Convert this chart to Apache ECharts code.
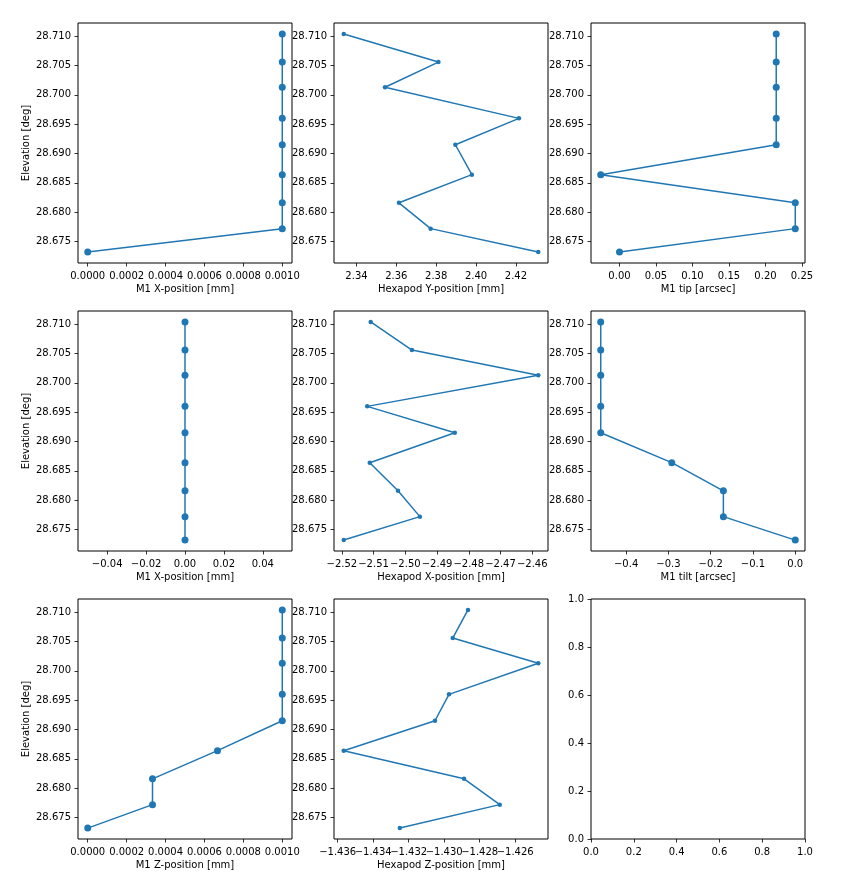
<!DOCTYPE html>
<html><head><meta charset="utf-8">
<script src="https://cdn.jsdelivr.net/npm/echarts@6/dist/echarts.min.js"></script>
<style>html,body{margin:0;padding:0;background:#fff}#c{width:849px;height:882px}</style>
</head><body><div id="c"></div><script>
// Elevation (deg), ordered from lowest to highest
const elevation = [28.6732, 28.6772, 28.6816, 28.6864, 28.6915, 28.6960, 28.7013, 28.7056, 28.7104];

// Panel values (same order as elevation)
const m1XPosTop   = [0.0, 0.001, 0.001, 0.001, 0.001, 0.001, 0.001, 0.001, 0.001];
const hexapodY    = [2.4312, 2.3772, 2.3613, 2.3979, 2.3896, 2.4215, 2.3543, 2.3811, 2.3336];
const m1Tip       = [0.0, 0.2408, 0.2408, -0.0257, 0.2147, 0.2147, 0.2147, 0.2147, 0.2147];
const m1XPosMid   = [0, 0, 0, 0, 0, 0, 0, 0, 0];
const hexapodX    = [-2.5194, -2.4954, -2.5023, -2.5112, -2.4844, -2.5120, -2.4581, -2.4979, -2.5109];
const m1Tilt      = [0.0, -0.17, -0.17, -0.292, -0.46, -0.46, -0.46, -0.46, -0.46];
const m1ZPos      = [0.0, 0.000333, 0.000333, 0.000667, 0.001, 0.001, 0.001, 0.001, 0.001];
const hexapodZ    = [-1.4325, -1.42687, -1.42888, -1.43566, -1.43052, -1.42973, -1.4247, -1.42952, -1.42866];

// Tick values and labels
const elevTicks  = [28.675, 28.680, 28.685, 28.690, 28.695, 28.700, 28.705, 28.710];
const elevLabels = ['28.675','28.680','28.685','28.690','28.695','28.700','28.705','28.710'];
const smallMmTicks  = [0, 0.0002, 0.0004, 0.0006, 0.0008, 0.0010];
const smallMmLabels = ['0.0000','0.0002','0.0004','0.0006','0.0008','0.0010'];
const hexYTicks  = [2.34, 2.36, 2.38, 2.40, 2.42];
const hexYLabels = ['2.34','2.36','2.38','2.40','2.42'];
const tipTicks   = [0, 0.05, 0.10, 0.15, 0.20, 0.25];
const tipLabels  = ['0.00','0.05','0.10','0.15','0.20','0.25'];
const zeroTicks  = [-0.04, -0.02, 0, 0.02, 0.04];
const zeroLabels = ['\u22120.04','\u22120.02','0.00','0.02','0.04'];
const hexXTicks  = [-2.52, -2.51, -2.50, -2.49, -2.48, -2.47, -2.46];
const hexXLabels = ['\u22122.52','\u22122.51','\u22122.50','\u22122.49','\u22122.48','\u22122.47','\u22122.46'];
const tiltTicks  = [-0.4, -0.3, -0.2, -0.1, 0.0];
const tiltLabels = ['\u22120.4','\u22120.3','\u22120.2','\u22120.1','0.0'];
const hexZTicks  = [-1.436, -1.434, -1.432, -1.430, -1.428, -1.426];
const hexZLabels = ['\u22121.436','\u22121.434','\u22121.432','\u22121.430','\u22121.428','\u22121.426'];
const unitTicks  = [0, 0.2, 0.4, 0.6, 0.8, 1.0];
const unitLabels = ['0.0','0.2','0.4','0.6','0.8','1.0'];

const blue = '#1f77b4';
const font = 'DejaVu Sans';
const colLeft = [78, 334, 591];
const rowTop = [23, 311, 599];
const W = 214, H = 240;

function limits(vals) {
  let lo = Math.min(...vals), hi = Math.max(...vals);
  if (lo === hi) { lo -= 0.05; hi += 0.05; }
  const m = (hi - lo) * 0.05;
  return [lo - m, hi + m];
}
function fmt(ticks, labels) {
  return function (v) {
    for (let i = 0; i < ticks.length; i++) if (Math.abs(ticks[i] - v) < 1e-9) return labels[i];
    return '';
  };
}
function axis(gi, lim, ticks, labels, name, isY) {
  return {
    type: 'value', gridIndex: gi, min: lim[0], max: lim[1], scale: true,
    position: isY ? 'left' : 'bottom', offset: 0,
    axisLine: { show: false, onZero: false },
    splitLine: { show: false },
    axisTick: { show: true, length: 3.5, customValues: ticks, lineStyle: { color: '#000', width: 0.8 } },
    axisLabel: { customValues: ticks, formatter: fmt(ticks, labels), margin: isY ? 7 : 8.5,
      fontSize: 10, color: '#000', fontFamily: font,
      showMinLabel: true, showMaxLabel: true, hideOverlap: false },
    name: name || '', nameLocation: 'middle',
    nameGap: isY ? 47 : 21,
    nameTextStyle: { fontSize: 10, color: '#000', fontFamily: font }
  };
}

const panels = [
  { x: m1XPosTop, ticks: smallMmTicks, labels: smallMmLabels, name: 'M1 X-position [mm]', big: true },
  { x: hexapodY, ticks: hexYTicks, labels: hexYLabels, name: 'Hexapod Y-position [mm]', big: false },
  { x: m1Tip, ticks: tipTicks, labels: tipLabels, name: 'M1 tip [arcsec]', big: true },
  { x: m1XPosMid, ticks: zeroTicks, labels: zeroLabels, name: 'M1 X-position [mm]', big: true },
  { x: hexapodX, ticks: hexXTicks, labels: hexXLabels, name: 'Hexapod X-position [mm]', big: false },
  { x: m1Tilt, ticks: tiltTicks, labels: tiltLabels, name: 'M1 tilt [arcsec]', big: true },
  { x: m1ZPos, ticks: smallMmTicks, labels: smallMmLabels, name: 'M1 Z-position [mm]', big: true },
  { x: hexapodZ, ticks: hexZTicks, labels: hexZLabels, name: 'Hexapod Z-position [mm]', big: false, split: true }
];

const grid = [], xAxis = [], yAxis = [], series = [];
const extraX = [];
const yLim = limits(elevation);
for (let i = 0; i < 9; i++) {
  const r = Math.floor(i / 3), c = i % 3;
  grid.push({ left: colLeft[c], top: rowTop[r], width: W, height: H, show: true,
    borderColor: '#000', borderWidth: 1, backgroundColor: '#fff', containLabel: false });
  if (i < 8) {
    const p = panels[i];
    const lim = limits(p.x);
    if (p.split) {
      // labels touch each other: split into two coincident axes so none is dropped
      const evT = p.ticks.filter((_, k) => k % 2 === 0), evL = p.labels.filter((_, k) => k % 2 === 0);
      const odT = p.ticks.filter((_, k) => k % 2 === 1), odL = p.labels.filter((_, k) => k % 2 === 1);
      xAxis.push(axis(i, lim, evT, evL, p.name, false));
      extraX.push(axis(i, lim, odT, odL, '', false));
    } else {
      xAxis.push(axis(i, lim, p.ticks, p.labels, p.name, false));
    }
    yAxis.push(axis(i, yLim, elevTicks, elevLabels, c === 0 ? 'Elevation [deg]' : '', true));
    series.push({
      type: 'line', xAxisIndex: i, yAxisIndex: i,
      data: p.x.map((v, k) => [v, elevation[k]]),
      symbol: 'circle', symbolSize: p.big ? 7 : 4.5, showSymbol: true,
      lineStyle: { color: blue, width: 1.5 }, itemStyle: { color: blue },
      emphasis: { disabled: true }, animation: false, clip: false
    });
  } else {
    xAxis.push(axis(i, [0, 1], unitTicks, unitLabels, '', false));
    yAxis.push(axis(i, [0, 1], unitTicks, unitLabels, '', true));
    series.push({ type: 'line', xAxisIndex: i, yAxisIndex: i, data: [], animation: false });
  }
}
extraX.forEach(a => xAxis.push(a));

const chart = echarts.init(document.getElementById('c'), null, { renderer: 'canvas' });
chart.setOption({ backgroundColor: '#fff', animation: false, grid, xAxis, yAxis, series });
</script></body></html>
